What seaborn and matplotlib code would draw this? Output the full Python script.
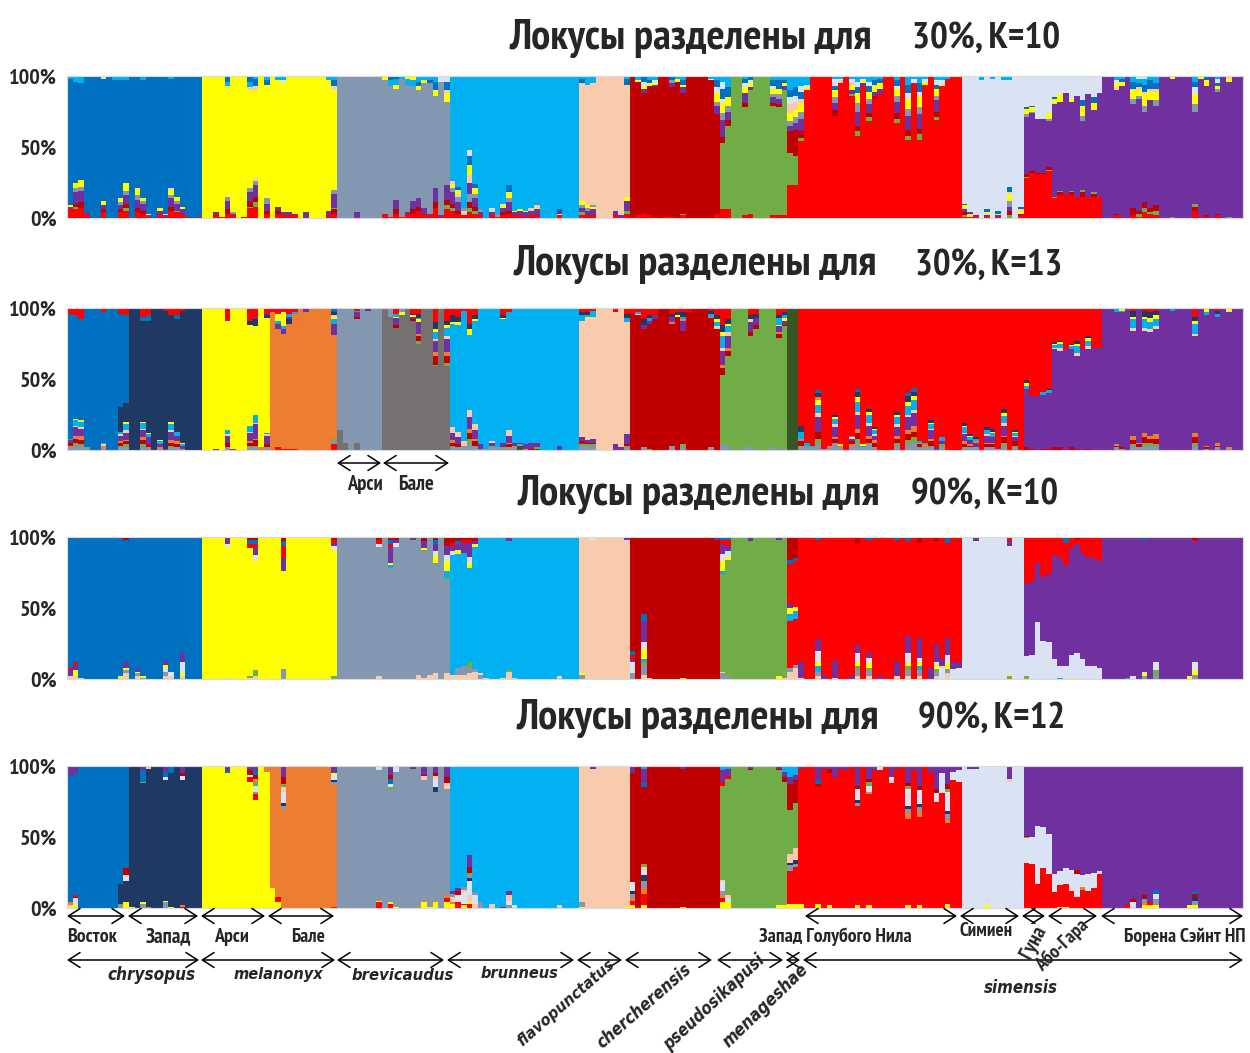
import re
import matplotlib
matplotlib.use("Agg")
import matplotlib.pyplot as plt
from matplotlib import font_manager as fm
from matplotlib.patches import FancyArrowPatch
import pandas as pd
import seaborn as sns

W, H = 1250, 1053

CLUSTER_COLORS = {
    "B": "#0070C0", "N": "#203864", "Y": "#FFFF00", "O": "#ED7D31",
    "G": "#8497B0", "D": "#767171", "C": "#00B0F0", "P": "#F8CBAD",
    "R": "#C00000", "V": "#70AD47", "K": "#375623", "E": "#FF0000",
    "L": "#DAE3F3", "U": "#7030A0",
}

GROUPS = ["Восток", "Запад", "Арси (melanonyx)", "Бале (melanonyx)",
          "Арси (brevicaudus)", "Бале (brevicaudus)", "brunneus",
          "flavopunctatus", "chercherensis", "pseudosikapusi", "menageshae",
          "Запад Голубого Нила", "Симиен", "Гуна", "Або-Гара", "Борена Сэйнт НП"]
GROUP_SIZES = [11, 13, 12, 12, 8, 12, 23, 9, 16, 12, 2, 29, 11, 5, 9, 25]

# Per individual: segments below the main cluster, '*' = main cluster (rest of 100 %), segments above.
P1_TITLE = ("Локусы разделены для", "30%, K=10")
P1_MAIN = list("BBYYGGCPRVVELUUU")
P1_BARS = [
    "E6U2Y1*C2 E6V2R2U8G3Y4*C3L1 E7R4U8G3Y5*C4L1 E2U2* *C1 * E4R2U3Y3*L2 * *C2L1 E4R2U3G2Y3*C3 E5V2R3U6G3Y6*C2L1",
    "* E4R3U6G3Y5*C1 E3R2U5G2Y2*C3 E1U1Y1* *C1 E2U3Y2*C1 E1U1P1*L1 E5R3U6G2Y4P1*C2 E4V1U5G2Y3* E3U3Y2* E1* * E1*",
    "* * E2U2*C1 E1* E3R3U6G3*C3B3L1 E2U1G1*C1 * E1* E7V1R3U7G3*P2C4B4 E8V3R4U8G3P2*P2L1B5C2 *C1 E3R2U5G4*B3C3",
    "*C1 E3R2U3*C2L1 E2U2*L2C3 E2U2* E2U1* * U4* * * *C1 E2U3*C2L1 E3R3V1U10G3*L1P2B4C3",
    "* * * U4*Y1 * * * *",
    "E3*Y2C1 E1*C4B3 E3R3U7*Y3C4B2 E1*C2 E3U1*C4Y2 E3R3U6*C4Y3 E5R3U6*Y3B3C4 E3U4*Y2C3 E2U1*B2C3 E7R4U10*Y4B6C4 E1U1*L3C1 E6V3R4U10*Y6P2B6L4",
    "E5V2R3U8G3Y3P2* E3R2U6G4P2Y3B2* E2P3G2* E4V3R4G6U8P5Y7B7L4* E3V2R3U6G3Y4B3* E2U2G2* * E2U2P2L1* E1G2* E2R2U3Y2L1* E3R2U6G3Y4B5* E2U2Y1* E2U3Y1* E1U3Y1* E2U3P2* E2U4Y1P2* * * * E2Y1U2B1* * * *",
    "E2V2U3G2Y3*B3C2 E2U3G2Y2*C6 E2U4Y2G1*C4B1 * * * E2U3*C1 U2*C1 E3V2U7Y3*B4C2",
    "E1*C1 E2*Y1C3 E3*U3Y2L3B4 E2*Y2B2C3 E1*U2Y1L2C3 * E1* E1*U3G2B3 *Y2C2 E2V1*U4Y2B3C3 * * *C1 * *L1C2 E3*U6G3Y6L4B5C3",
    "E6*R4U12G5Y7L3B7L5C4 E6*R4U6G4Y6B7C8 * * E2*R3U7Y4L3B3C2 E3*U2Y3L2B3 * * *U1 E2*R2U4G2Y4L2B4C3 E2*R2U4G3Y4B6C3 E2*U3Y2B2C3",
    "E23*R15U4G3Y6P6L5B5C10 E23*R18U5G4Y5P6L4B6C8",
    "*V2R5U9G5Y6P3B5L4C7 *Y2L2C6 * * *C1 * *R4U5G4Y5B3L5C2 *P2L1C2 * *V1U3Y4P2L2C2 *V3R4U10G6Y7B4L4C4 *U2Y2L1C2 *V3R3U6G4Y5B4L3C4 *R2U3Y4P1B3C3 *U4Y4B3C2 * * *V3R4U8G4Y5L2B4C3 * *V3R4U10G5Y7L4B6C6 *L3C2 *V4R4U10G5Y8L3B6C5 *Y2L2C2 *C1 *V2R4U8G3Y5B3L3C3 *Y1L3C3 *C2 * *",
    "E1V1R2U2P1Y2B1*C1 E1Y1P1U1* E1U1P1* *C3 E1U1P1Y1B2* *C2 E1U1Y1B2* *C3 V2R3U3G4Y5P1B4*C3 * E2R1Y2P1B2*C1",
    "E28V1R2*G2Y4B1L22 E32R1*G1Y3B1L21 E31R1*L30 E31R1*L30 E33V1R2*G2Y4L26",
    "E14V1*P1Y3B1L15 E16R2V1*Y5L13 E17*L12 E16R2V1*Y2L16 E15*L14 E15R3V2*G4Y7B4L17 E15*L13 E15R2V1*Y5B4L15 E15*L12",
    "* * E2R1*P2Y3L2C3 E1*Y3B2C2 * E2R5*G4Y6P1B5C4 E1V2R2*G2Y4P2B3C3L2 E4V3R4*G4Y8P2B5C4L2 E3V1R3*Y6P2B6C3 E2V3R4*G4Y6P2B4C5 * * V1*Y2 * * * E5R3V2*G5Y7L5B4C4 E1*Y2 E1R1*Y4B2C1 * E2R1*G2Y2B2L3C2 * V1*Y2P1C1 * *",
]

P2_TITLE = ("Локусы разделены для", "30%, K=13")
P2_MAIN = list("BNYOGDCPRVKEEEEU")
P2_BARS = [
    "G2O1R2U2C1*E4 G3V2R3O2U6P1C4Y1*E5 G3V1R3O3U5P1C4Y1*E8 G1V1* * * G1O2P1C1*E3 * * G2V1R2O1U4P1C2N17*E4 G2V2R2O1U5P2C4Y2N13*E5",
    "* * G2V2R3O2U5P1C4Y1*B3E6 G2R2U5C2Y1*B4E5 * G1O1U2C2Y1* U1*E2 G2V1R2O2U6P1C4Y2*E5 G2R2O2U4C3*B3E5 G1U2C1Y1*E2 * * *",
    "* * U1*E1 * G2R3U5P1C3*E9 U1* * * G2V1R2O1U6P1C4*N3E9 G2V1R4O1U10P1C6*N5U2E6 O2* G2R2U6P1C1*N2U1E4",
    "*E3 E2*U4C2Y5E4 E1*U3C2Y10E3 E1*N3U2C2E4 E1*C1E3 * *U3 * * * * E4G2V2*U8C3Y2P1N2B3",
    "D14* D5* * D5*R2U3C1E2 * *U2 * *",
    "* *G6 *R2U5Y1C2E4 *Y2G3 *U1 *R1U2Y1N1E4 *V2R3O2U8Y2C1N3E4 * * *V1R6O3U8P1C5Y2N5E10 * *V2R5O3U9P2C6Y2N3E9",
    "G2V1R2O2U5P4*Y1N5E5 G2R2U5P4*Y2N4E6 G3P3*E2 G4V4R4O3U8P5*Y4N4E11 G3R3O2U6P4*Y1N3E5 G1U3*Y1 G1* G2V1U2P1*E1 G2*E1 G1V1U3*Y1N2E5 G2R2O1U5P4*E3 G2O1U2*E1 K3G1U1* O1U3* R1U4*Y1 K1V1U3* * * * U3*E1 * * *",
    "G3V1E1R1U3*C4N2E3 G3V1R1U2*Y1C1N2E3 G3V1R1U3*C4E2 * * * U4*E3 U2*Y1 G2V1R1U7*C3N3E4",
    "*E4 *P1C1E3 G2*U3N4E8 V1*U2C2N2E5 *U3E5 * * G3*O1U4N2E4 *Y1N2E3 G2V2*U7O1C2N3E3 *E3 * * * G2*O1C2N2E2 *P2C3Y2N3E5",
    "G4*R5O2U10P2C8Y3N5E12 G3*R4O2U8P3C4Y2N3E8 * * G2*U1 G2*R3U7P2N3E5 G1*R3U5N3E4 * * G2* G1*R3O1U4Y1C5N2E5 G1*R1U3Y2C2N2E3",
    "*C1 *",
    "G3R3O2C5N4* G2V1C2* G2C1* G4V4R5U10P3C6Y3O2N3B2* G1* G2O1* G5R3O1U7P2C4Y1N2* G2O1Y1* * G3O1R2U2P1C1* G5V3R4O3U10P2C7Y3N4B2* G2C1Y1* G4V1R3O2U7P2C6Y2N2* G2R3O2U3P1C3Y1N1* * * * G3V2R3O2U6P2C5Y2N2* * G4V3R4O3U9P2C6Y3N4B2* G5V4R4O4U9P2C7Y3N3B3* G2R2O1C1* G2O2C1* G2V1R3O2U6P1C3Y1N2* U2* G2V2U2C3* * * *",
    "G2R2O2U5P1C4Y1N2* G2R1O1U3C2Y1N1* G2U3O1C2N1* * G2R2O1U5P1C3N2* G2R2O1U4C3Y1N2* G1* G3V2R4O1U7P2C5Y2N3* * G2V1R3U3P1C2Y1N1* *",
    "R2U41C2Y2N2* R1U37* U38* R1U38C2* R1U39C2N1*",
    "R2U69P1C2Y1N1* R2U68P2C3Y1N1* U71* R2U69C2Y1N1* R1U65P2C5Y2N2* U71* R1U70P2C4Y2N1* U72* U72*",
    "* * G2R1O1*C2N1 G1R1*C1Y1N1 * G3V1R3O3*P2C6Y2N4E2 G2R2O1* G3V2R4O3*P2C6Y2N4E2 G3V2R3O2*P2C5Y3N4E3 G3V1R4O3*P2C5Y3N3E2 * * *C2 * * * G3V2R4O3*P2C7Y2N3E6 * G1R1O1*C2Y2N1 * G2R1O2*C2N2E2 * G1O1*P1Y2 * *",
]

P3_TITLE = ("Локусы разделены для", "90%, K=10")
P3_MAIN = list("BBYYGGCPRVEELUUU")
P3_BARS = [
    "P2U4E2* P2Y4U4E2* P1* * * * * * * P1Y1* P4G2Y2U4*R2",
    "* P2G2Y1U2* G1Y1* * * * P2G3L3Y2U3* P2L3* * P2Y2L8U6* * * *",
    "* * * * P1*L2U4R1 * * * P1V1*E3B3R2 P2V4*L4U6E2B3R2 * *",
    "* * G7*U9E9B3R3 * * * * * * * * V2*L3U2E2R2",
    "* * * * * * * P2*L2E3R2",
    "* *C2Y2U11E2B3R2 *L3U2R2 * * *U2 P3* P1*V1Y1U5R3 P3* P4*V1Y5L3U5B3R2 * P4*V1C5Y7L4U7R6",
    "P3*L3U4E2R4 P3G5*Y3U4B2R3 P3G6*U7E2R2 P4G4V4*Y4L4U10E2R2 P5G2*Y2U2R3 G3P1* P1* * * P1* P5V1*U3 P1* * * * * * * * P2* * * *",
    "G3Y1*V1 * *L1U1 * * * * * *L1U2",
    "G4L8U2E3B3* * P3G7V2C2Y7L5U15B5* P1* * * * * * Y1* * * * * * *U2",
    "G4P1*C2Y7L5U7E3B2 G2*Y2L4U4E4B2 * * * *U3 * * * * Y2*U1B1 P1*",
    "P5G3E33C5Y4U3*B3R16 P8G2E32C6Y3*B2R15",
    "P1U11* * * P2G3C4Y3L8U8*B2 U3* * P1U12* * * U2* P2G4V3Y3L6U6*R5 * P2G4V2Y3L4U3*B2 * U2* * * P2U10*B2 * P2G4V3Y2L7U12*B3 * P2G4C3Y3L3U14*R4 * U8* P2G3V2Y3L2U13*R3 L8P1U5* P4G3Y4L6U12*B4 L7U5* L8U4*",
    "* * *U3 * * * * * V2Y1*U3E3 * *",
    "V2L14*E33 L17*E31 L40*E18 L27*E28 L26*E26",
    "L14*E13 C1L8*E15 L9*E16B4 Y1L16*E8 L18*E3R2 L14*E11 L9*E14 L9*E15 L8*E17",
    "* * * * C1*B1 L2* * G2Y2L1*B2 *R1 G3V3L6*B1 * * * * * Y2* G3Y3L6*E1R2 * * * * * * * *",
]

P4_TITLE = ("Локусы разделены для", "90%, K=12")
P4_MAIN = list("BNYOGGCPRVVELUUU")
P4_BARS = [
    "Y1P1O2*U7 Y2L4P1R1E1*U5 * * * * * * * G2V1N14*U1 Y4N15L3P1R5*U1",
    "Y1* * G3Y1*V1B8U3 O1*P1O1 * * G4Y1*L2B4U4 Y1*B5 * R1O1*L3R2U5 * * *",
    "* * * * *B2U3 * * * *E3L2R3U3 *E4G2L4V3O2R3B3U3 * *O4",
    "Y14* Y4E4* *G2N2L8P3V2R5U8 * * * * * * * * E1*G2N1L4Y1B1U4",
    "* * * * * * * E4Y1*L2P1",
    "* E3Y1*V2L2B4R3U6 Y1*L3R1 * * *U2 O1*U1 Y4O1*P3R1U6 Y1* Y4O1*N3L6P2R2U5 * Y4E3O2*P4R4U8",
    "Y3O1P4G2U2* E4P1L4R3U2* Y2E1L8P2G2* E3Y1P5L10N2G2V2R4U8* P3L6G2* G4* * P3* * E1* G2L3P4U3* L2* * * * * * * * P2* * * *",
    "Y1G3*R1 * *U2 * * * * * Y1*U1",
    "Y2E3O2G3N2L6*U5 * Y2E8O4G5N4L4P2V2*B3U10C2 * * * * * * Y1*U2 * * * * * *",
    "Y4E3O2G3L7P1*E3U8C3 Y4L3P2*E2U5C2 * * * *R1U2 * * * * Y2G1*R1U2 Y2*R3U4C4",
    "Y3E23G4N2P6*R18U5C8 Y3E26G2N3P8*R16U4C6",
    "Y3*U2 * *U1 Y3*R2B3U10 *U2 Y2*R3U2 *U8 *U2 *U3 *U1 Y2*G2N2L8R2U14 * Y2*O2L4V3R2U9 *U3 *L2U1 * *P2L2U8 *U2 * Y2*O4G3N2L12V2R2U12 *U3 Y2*O4G3N2L10R3U14 * *U5 *L6R3U16 *L14U5 Y3*O2G4N2L14V2R3U13 *L6U4 *L8U3",
    "* *U2 *U2 * Y2* * * * *P2U9 * *",
    "E32L17V1R1* E31L19* E17L41* E28L29* E24L28*",
    "E11L13* Y1E15L10* Y1E16L11* E12L15* E8L16R3* E13O2L8* E12L12* E14L11* E24L2*",
    "* * * * E3* L4R2* * Y2O2G2N1R2* Y2E2* Y2G4L4B3* * * * * * Y2* Y2G3N3R2B2* * * * * * * * *",
]

PANELS = [
    (P1_TITLE, P1_MAIN, P1_BARS, 76, (872, 912), 38),
    (P2_TITLE, P2_MAIN, P2_BARS, 308, (877, 915), 265),
    (P3_TITLE, P3_MAIN, P3_BARS, 537, (880, 911), 494),
    (P4_TITLE, P4_MAIN, P4_BARS, 766, (879, 918), 718),
]

SEG = re.compile(r"([A-Z])(\d+)")


def build_frame(mains, bars):
    rows = []
    x = 0
    for main, text, size in zip(mains, bars, GROUP_SIZES):
        toks = text.split()
        assert len(toks) == size, (text[:30], len(toks), size)
        for tok in toks:
            low, high = tok.split("*")
            lo = [(c, int(v)) for c, v in SEG.findall(low)]
            hi = [(c, int(v)) for c, v in SEG.findall(high)]
            rest = 100 - sum(v for _, v in lo + hi)
            assert rest >= 0, tok
            for layer, (c, v) in enumerate(lo + [(main, rest)] + hi):
                rows.append({"ind": x, "layer": f"{layer:02d}{c}", "q": v})
            x += 1
    return pd.DataFrame(rows), x


sns.set_style("white")
plt.rcParams["font.family"] = ["DejaVu Sans"]


# ---- pick a condensed bold face if one is installed ----
def _is_bold(f):
    w = f.weight
    return (isinstance(w, (int, float)) and w >= 600) or str(w).lower() in ("bold", "heavy", "black", "semibold", "demibold", "extra bold")


def _is_cond(f):
    nm = f.name.lower()
    st = str(f.stretch).lower()
    return ("narrow" in nm or "condensed" in nm or "condensed" in st
            or st in ("narrow", "100", "200", "300", "400"))


def pick(italic):
    best, score = None, -1
    for f in fm.fontManager.ttflist:
        if not _is_cond(f):
            continue
        if (f.style != "normal") != italic:
            continue
        s = 0
        s += 4 if _is_bold(f) else 0
        nm = f.name.lower()
        s += 3 if "narrow" in nm else 0
        s += 2 if "dejavu" in nm or "roboto" in nm or "liberation" in nm else 0
        if s > score:
            best, score = f, s
    return best


_up = pick(False)
_it = pick(True)


def fp(italic=False):
    f = _it if italic else _up
    if f is None and italic and _up is not None:
        f = _up
    if f is not None:
        return fm.FontProperties(fname=f.fname)
    return fm.FontProperties(family="DejaVu Sans", weight="bold",
                             style="italic" if italic else "normal")


fig = plt.figure(figsize=(W / 100, H / 100), dpi=100)
renderer = fig.canvas.get_renderer()

AX_L, AX_R, AX_H = 67, 1243, 142


def fx(px):
    return px / W


def fy(py):
    return 1 - py / H


def fit(t, target, maxsize):
    """Size a text so its width matches the reference width (in pixels)."""
    rot = t.get_rotation()
    t.set_rotation(0)
    t.set_fontsize(20)
    w = t.get_window_extent(renderer).width
    t.set_fontsize(min(maxsize, 20 * target / w))
    t.set_rotation(rot)
    return t


TITLE_W = [(362, 148), (364, 147), (363, 147), (363, 147)]

for (title, mains, bars, top, (tx1, tx2), ty), (w1, w2) in zip(PANELS, TITLE_W):
    df, n = build_frame(mains, bars)
    levels = sorted(df["layer"].unique(), reverse=True)
    pal = {lv: CLUSTER_COLORS[lv[2:]] for lv in levels}
    ax = fig.add_axes([fx(AX_L), fy(top + AX_H), fx(AX_R - AX_L), AX_H / H])
    sns.histplot(data=df, x="ind", weights="q", hue="layer", hue_order=levels,
                 palette=pal, multiple="stack", discrete=True, element="step",
                 fill=True, alpha=1, linewidth=0, legend=False, ax=ax,
                 antialiased=False)
    ax.set_xlim(-0.5, n - 0.5)
    ax.set_ylim(0, 100)
    ax.set_xticks([])
    ax.set_yticks([0, 50, 100])
    ax.set_xlabel("")
    ax.set_ylabel("")
    ax.tick_params(axis="y", length=0, pad=7)
    for sp in ax.spines.values():
        sp.set_color("#d9d9d9")
        sp.set_linewidth(0.8)
    # tick labels sized to the reference width of "100%"
    probe = fig.text(0, 0, "100%", fontproperties=fp())
    fit(probe, 48, 22)
    tsize = probe.get_fontsize()
    probe.remove()
    ax.set_yticklabels(["0%", "50%", "100%"], fontproperties=fp(), fontsize=tsize)
    t1 = fig.text(fx(tx1), fy(ty), title[0], ha="right", va="center",
                  fontproperties=fp())
    fit(t1, w1, 32)
    t2 = fig.text(fx(tx2), fy(ty), title[1], ha="left", va="center",
                  fontproperties=fp())
    fit(t2, w2, 32)


def arrow(x0, x1, y):
    fig.add_artist(FancyArrowPatch((fx(x0), fy(y)), (fx(x1), fy(y)),
                                   transform=fig.transFigure,
                                   arrowstyle="<->,head_length=0.7,head_width=0.45",
                                   mutation_scale=12, lw=1.1, color="black",
                                   shrinkA=0, shrinkB=0))


def label(x, y, s, width, rot=0, italic=False, maxsize=15):
    t = fig.text(fx(x), fy(y), s, ha="center", va="center",
                 fontproperties=fp(italic), rotation=rot,
                 rotation_mode="anchor")
    fit(t, width, maxsize)
    return t


# labels under panel 2
arrow(337, 381, 463)
arrow(383, 449, 463)
label(365, 485, "Арси", 36)
label(416, 485, "Бале", 36)

# first label row under panel 4
for x0, x1 in [(67, 125), (128, 198), (201, 265), (268, 334), (805, 957),
               (960, 1019), (1022, 1045), (1048, 1097), (1101, 1243)]:
    arrow(x0, x1, 916)
label(92, 937, "Восток", 50)
label(168, 937, "Запад", 46)
label(232, 937, "Арси", 35)
label(308, 937, "Бале", 34)
label(835, 937, "Запад Голубого Нила", 153)
label(986, 931, "Симиен", 53)
label(1034, 942, "Гуна", 36, rot=62)
label(1062, 945, "Або-Гара", 66, rot=44)
label(1185, 937, "Борена Сэйнт НП", 122)

# second label row
for x0, x1 in [(67, 199), (201, 335), (337, 444), (447, 574), (577, 622),
               (625, 712), (717, 783), (786, 800), (803, 1243)]:
    arrow(x0, x1, 960)
label(151, 975, "chrysopus", 88, italic=True, maxsize=17)
label(278, 975, "melanonyx", 90, italic=True, maxsize=17)
label(403, 975, "brevicaudus", 102, italic=True, maxsize=17)
label(519, 973, "brunneus", 78, italic=True, maxsize=17)
label(566, 1003, "flavopunctatus", 124, rot=41, italic=True, maxsize=17)
label(644, 1006, "chercherensis", 120, rot=41, italic=True, maxsize=17)
label(714, 1002, "pseudosikapusi", 132, rot=43, italic=True, maxsize=17)
label(766, 1006, "menageshae", 112, rot=44, italic=True, maxsize=17)
label(1021, 988, "simensis", 74, italic=True, maxsize=17)

fig.savefig("out.png", dpi=100)
